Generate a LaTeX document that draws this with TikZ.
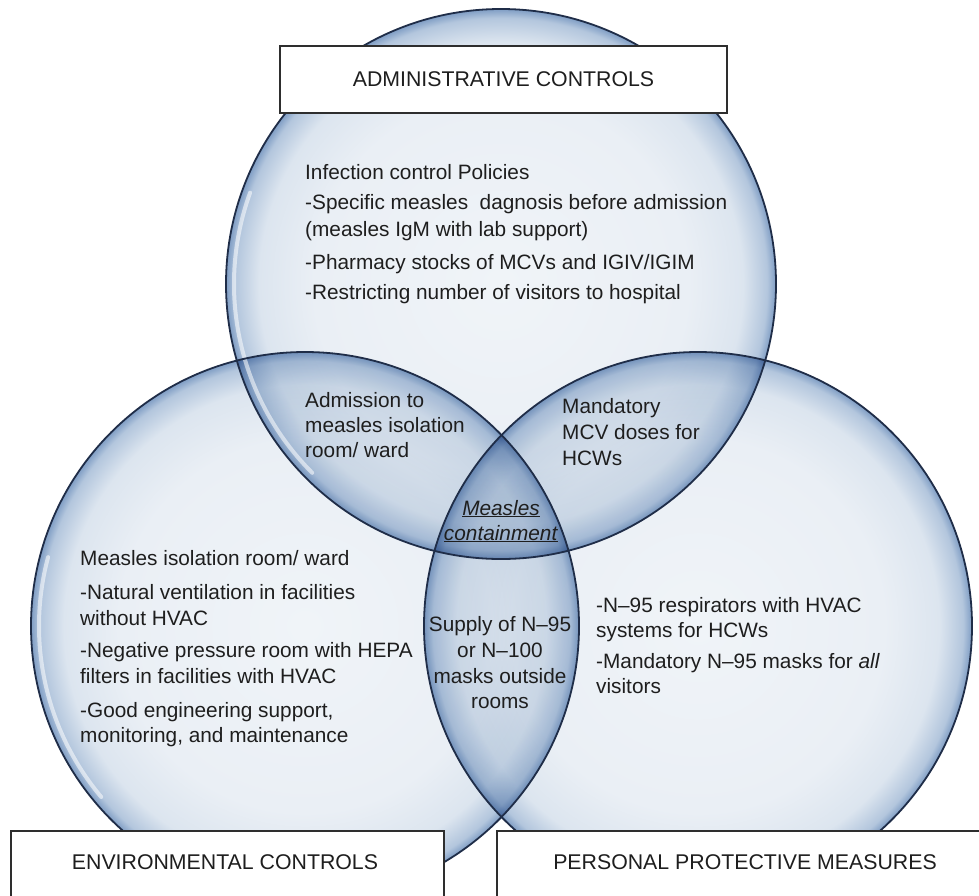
\documentclass[tikz,border=0pt]{standalone}
\usepackage{fontspec}
\setmainfont{Liberation Sans}
\definecolor{gA}{HTML}{F0F4F8}
\definecolor{gB}{HTML}{EAEFF5}
\definecolor{gC}{HTML}{DCE5EF}
\definecolor{gD}{HTML}{B3C6DD}
\definecolor{gE}{HTML}{7F9DC4}
\definecolor{rimc}{HTML}{1F2D48}
\definecolor{txtc}{HTML}{1E1E1E}
\definecolor{boxc}{HTML}{2E2E2E}
\pgfdeclareradialshading{glass}{\pgfpoint{0bp}{0bp}}{color(0bp)=(gA); color(17bp)=(gB); color(22bp)=(gC); color(24.2bp)=(gD); color(25bp)=(gE); color(50bp)=(gE)}
\begin{document}
\begin{tikzpicture}[x=1pt,y=-1pt,
  bubble/.style={circle, minimum size=#1, inner sep=0pt, outer sep=0pt, shading=glass},
  rim/.style={draw=rimc, line width=1.8pt},
  glint/.style={draw=white, line width=4pt, opacity=0.55, line cap=round},
  labelbox/.style={draw=boxc, line width=1.3pt, fill=white, inner sep=0pt},
  ttl/.style={font=\fontsize{21.3}{25}\selectfont, inner sep=0pt, text=txtc},
  body/.style={font=\fontsize{20.8}{25}\selectfont, inner sep=0pt, anchor=base west, text=txtc},
  ctr/.style={body, anchor=base}]
\useasboundingbox (0,0) rectangle (979,895);
\fill[white] (0,0) rectangle (979,895);
% circles
\begin{scope}[blend mode=multiply]
  \node[bubble=550pt] (cA) at (501,284) {};
  \node[bubble=548pt] (cE) at (305,626) {};
  \node[bubble=548pt] (cP) at (698,626) {};
\end{scope}
% highlights
\draw[glint] (cA) ++(200:267) arc[start angle=200, end angle=135, radius=267];
\draw[glint] (cE) ++(195:266) arc[start angle=195, end angle=140, radius=266];
% outlines
\draw[rim] (cA) circle[radius=275];
\draw[rim] (cE) circle[radius=274];
\draw[rim] (cP) circle[radius=274];
% category boxes
\node[labelbox, minimum width=447pt, minimum height=67pt] (admbox) at (503.5,79.5) {};
\node[ttl] (admtxt) at (admbox.center) {ADMINISTRATIVE CONTROLS};
\node[labelbox, minimum width=433pt, minimum height=80pt] (envbox) at (227.5,871) {};
\node[ttl] (envtxt) at (225,862) {ENVIRONMENTAL CONTROLS};
\node[labelbox, minimum width=500pt, minimum height=80pt] (ppmbox) at (747,871) {};
\node[ttl] (ppmtxt) at (745,862) {PERSONAL PROTECTIVE MEASURES};
% administrative controls
\node[body] (a1) at (305,179) {Infection control Policies};
\node[body] (a2) at (305,209) {-Specific measles\ \ dagnosis before admission};
\node[body] (a3) at (305,236) {(measles IgM with lab support)};
\node[body] (a4) at (305,269) {-Pharmacy stocks of MCVs and IGIV/IGIM};
\node[body] (a5) at (305,299) {-Restricting number of visitors to hospital};
% admin + environmental
\node[body] (ae1) at (305,407) {Admission to};
\node[body] (ae2) at (305,432) {measles isolation};
\node[body] (ae3) at (305,457) {room/ ward};
% admin + personal
\node[body] (ap1) at (562,413) {Mandatory};
\node[body] (ap2) at (562,439) {MCV doses for};
\node[body] (ap3) at (562,465) {HCWs};
% centre
\node[ctr] (m1) at (501,515) {\underline{\textit{Measles}}};
\node[ctr] (m2) at (501,540) {\underline{\textit{containment}}};
% environmental
\node[body] (e1) at (80,565) {Measles isolation room/ ward};
\node[body] (e2) at (80,599) {-Natural ventilation in facilities};
\node[body] (e3) at (80,625) {without HVAC};
\node[body] (e4) at (80,657) {-Negative pressure room with HEPA};
\node[body] (e5) at (80,683) {filters in facilities with HVAC};
\node[body] (e6) at (80,717) {-Good engineering support,};
\node[body] (e7) at (80,742) {monitoring, and maintenance};
% environmental + personal
\node[ctr] (ep1) at (500,631) {Supply of N–95};
\node[ctr] (ep2) at (500,657) {or N–100};
\node[ctr] (ep3) at (500,683) {masks outside};
\node[ctr] (ep4) at (500,708) {rooms};
% personal
\node[body] (p1) at (596,612) {-N–95 respirators with HVAC};
\node[body] (p2) at (596,637) {systems for HCWs};
\node[body] (p3) at (596,668) {-Mandatory N–95 masks for \textit{all}};
\node[body] (p4) at (596,693) {visitors};
\end{tikzpicture}
\end{document}
